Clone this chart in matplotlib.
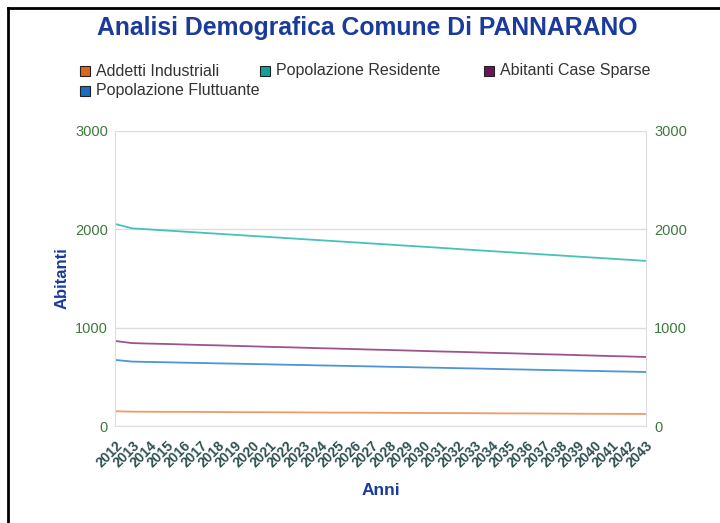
import numpy as np
import matplotlib
matplotlib.use("Agg")
import matplotlib.pyplot as plt
from matplotlib.lines import Line2D

plt.rcParams['font.family'] = ['Liberation Sans', 'DejaVu Sans']

# Data
anni = list(range(2012, 2044))

addetti_industriali = [150, 146, 145, 144, 144, 143, 142, 141, 140, 140, 139, 138, 137, 136, 136, 135,
                       134, 133, 132, 132, 131, 130, 129, 128, 128, 127, 126, 125, 124, 124, 123, 122]
popolazione_residente = [2055, 2010, 1999, 1988, 1977, 1966, 1955, 1944, 1933, 1922, 1911, 1900, 1889,
                         1878, 1867, 1856, 1845, 1834, 1823, 1812, 1800, 1789, 1778, 1767, 1756, 1745,
                         1734, 1723, 1712, 1701, 1690, 1679]
abitanti_case_sparse = [865, 843, 838, 834, 829, 824, 820, 815, 810, 805, 801, 796, 791, 787, 782, 777,
                        773, 768, 763, 758, 754, 749, 744, 740, 735, 730, 726, 721, 716, 711, 707, 702]
popolazione_fluttuante = [672, 655, 651, 648, 644, 641, 637, 634, 630, 627, 623, 620, 616, 613, 609, 606,
                          602, 599, 595, 592, 588, 585, 581, 577, 574, 570, 567, 563, 560, 556, 553, 549]

serie_nomi = ["Addetti Industriali", "Popolazione Residente", "Abitanti Case Sparse", "Popolazione Fluttuante"]
serie_valori = [addetti_industriali, popolazione_residente, abitanti_case_sparse, popolazione_fluttuante]
col_legenda = ["#dc661c", "#11a39b", "#6b1457", "#1a6ec4"]
col_linee = ["#f09a66", "#46c2bb", "#9c5490", "#4a96d8"]

blu = "#1a3a9c"
verde = "#3d7a3d"

fig = plt.figure(figsize=(7.2, 5.23), dpi=100)
ax = fig.add_axes([115 / 720, 1 - 426 / 523, (646 - 115) / 720, (426 - 131) / 523])

x = np.arange(len(anni))
for vals, c in zip(serie_valori, col_linee):
    ax.plot(x, vals, color=c, lw=1.3)

ax.set_xlim(0, len(anni) - 1)
ax.set_ylim(0, 3000)
ax.set_yticks([0, 1000, 2000, 3000])
ax.grid(axis="y", color="#dcdce4", lw=1)
ax.set_axisbelow(True)
for s in ["top", "bottom", "left", "right"]:
    ax.spines[s].set_color("#dcdce4")
ax.spines["top"].set_visible(False)
ax.tick_params(length=0)
ax.tick_params(axis="y", colors=verde, labelsize=10.5, pad=5)
ax.set_xticks(x)
ax.set_xticklabels([str(a) for a in anni], rotation=45, ha="right", va="top",
                   rotation_mode="anchor", fontsize=10, color="#2f5050", fontweight="bold")
ax.tick_params(axis="x", pad=9)

ax2 = ax.twinx()
ax2.set_ylim(0, 3000)
ax2.set_yticks([0, 1000, 2000, 3000])
ax2.tick_params(length=0, colors=verde, labelsize=10.5, pad=6)
for s in ["top", "bottom", "left", "right"]:
    ax2.spines[s].set_visible(False)

ax.set_ylabel("Abitanti", color=blu, fontsize=12, fontweight="bold", labelpad=4)
ax.set_xlabel("Anni", color=blu, fontsize=12.5, fontweight="bold", labelpad=9)

fig.text(367 / 720, 1 - 28 / 523, "Analisi Demografica Comune Di PANNARANO", ha="center", va="center",
         color=blu, fontsize=17.8, fontweight="bold")

# legend, laid out like the original (3 on first row, 1 on second)
pos = [(80, 71), (260, 71), (484, 71), (80, 91)]
for (px, py), nome, c in zip(pos, serie_nomi, col_legenda):
    fig.patches.append(plt.Rectangle((px / 720, 1 - (py + 5) / 523), 10 / 720, 10 / 523,
                                     transform=fig.transFigure, facecolor=c, edgecolor="#222222", lw=0.8))
    fig.text((px + 16) / 720, 1 - py / 523, nome, ha="left", va="center", fontsize=11.5, color="#333333")

# frame lines (top and left)
fig.add_artist(Line2D([8 / 720, 8 / 720], [0, 1 - 8 / 523], transform=fig.transFigure, color="black", lw=2))
fig.add_artist(Line2D([8 / 720, 1], [1 - 8 / 523, 1 - 8 / 523], transform=fig.transFigure, color="black", lw=2))

fig.savefig("out.png", dpi=100)
